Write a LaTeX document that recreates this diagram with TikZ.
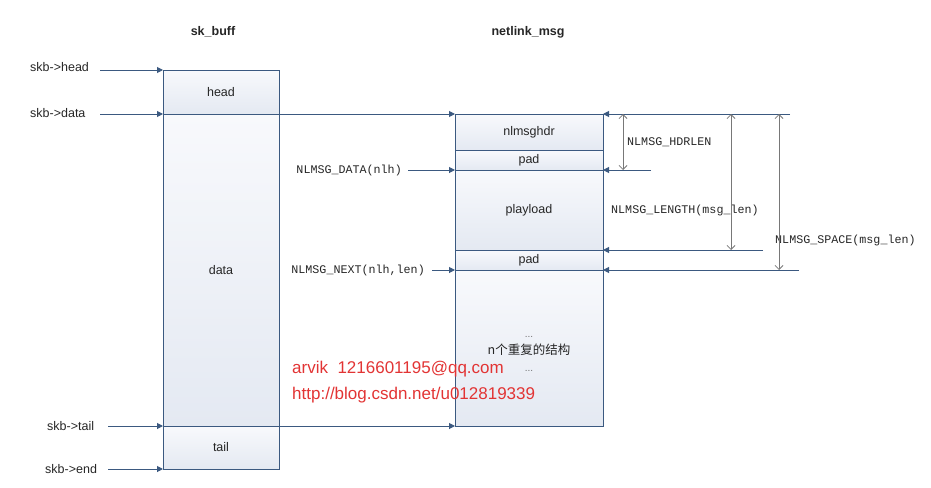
\documentclass[tikz,border=0pt]{standalone}
\usepackage{fontspec}
\setmainfont{Liberation Sans}
\setmonofont{Liberation Mono}
\newfontfamily\cjk{Noto Sans CJK SC}
\usepackage{tikz}
\usetikzlibrary{arrows.meta,positioning}

\definecolor{edgeblue}{RGB}{59,89,128}
\definecolor{cellhi}{RGB}{248,249,252}
\definecolor{celllo}{RGB}{228,233,242}
\definecolor{dimgray}{RGB}{120,120,120}
\definecolor{markred}{RGB}{226,52,52}

\tikzset{
  cell/.style={draw=edgeblue, line width=1pt, top color=cellhi, bottom color=celllo,
    inner sep=0pt, outer sep=0pt, font=\fontsize{12.5}{15}\selectfont, text=black!85},
  ptr/.style={draw=edgeblue, line width=1pt, -{Triangle[length=6pt,width=6pt]}},
  dim/.style={draw=dimgray, line width=0.8pt,
    {Straight Barb[length=4pt,width=8pt]}-{Straight Barb[length=4pt,width=8pt]}},
  lbl/.style={inner sep=0pt, font=\fontsize{12.5}{15}\selectfont, text=black!85},
  macro/.style={inner sep=0pt, font=\ttfamily\fontsize{11.7}{14}\selectfont, text=black!85},
}
\newcommand{\gdots}{{\color{black!55}\fontsize{10}{10}\selectfont ...}}

\begin{document}
\begin{tikzpicture}[x=1pt,y=-1pt]
            \useasboundingbox (0,0) rectangle (931,487);
            % titles
            \node[lbl, font=\bfseries\fontsize{12.5}{15}\selectfont] (tskb) at (213,32) {sk\_buff};
            \node[lbl, font=\bfseries\fontsize{12.5}{15}\selectfont] (tnl) at (528,32) {netlink\_msg};
            % sk_buff cells
            \node[cell, minimum width=116pt, minimum height=44pt] (head) at (221,92) {head};
            \node[cell, minimum width=116pt, minimum height=312pt, below=0pt of head] (data) {data};
            \node[cell, minimum width=116pt, minimum height=43pt, below=0pt of data] (tail) {tail};
            % netlink_msg cells
            \node[cell, minimum width=148pt, minimum height=36pt] (hdr) at (529,132) {nlmsghdr};
            \node[cell, minimum width=148pt, minimum height=20pt, below=0pt of hdr] (pad1) {pad};
            \node[cell, minimum width=148pt, minimum height=80pt, below=0pt of pad1] (pay) {playload};
            \node[cell, minimum width=148pt, minimum height=20pt, below=0pt of pay] (pad2) {pad};
            \node[cell, minimum width=148pt, minimum height=156pt, below=0pt of pad2] (rest) {};
            \node[lbl, align=center, font=\fontsize{12.5}{17}\selectfont] (resttxt) at ([yshift=-5.5pt]rest.center)
                {\gdots\\{\cjk n个重复的结构}\\\gdots};
            % Text Node
            \node[lbl, anchor=west] (lhead) at (30,67) {skb->head};
            \node[lbl, anchor=west] (ldata) at (30,113) {skb->data};
            \node[lbl, anchor=west] (ltail) at (47,426) {skb->tail};
            \node[lbl, anchor=west] (lend) at (45,469) {skb->end};
            \node[macro, anchor=east] (ldat) at (402,170) {NLMSG\_DATA(nlh)};
            \node[macro, anchor=east] (lnext) at (425,270) {NLMSG\_NEXT(nlh,len)};
            \node[macro, anchor=west] (lhdr) at (627,142) {NLMSG\_HDRLEN};
            \node[macro, anchor=west] (llen) at (611,210) {NLMSG\_LENGTH(msg\_len)};
            \node[macro, anchor=west] (lspc) at (775,240) {NLMSG\_SPACE(msg\_len)};
            \node[anchor=west, inner sep=0pt, align=left, text=markred, font=\fontsize{17}{26}\selectfont] (mark)
                at (292,382) {arvik\ \ 1216601195@qq.com\\http://blog.csdn.net/u012819339};
            % free ends
            \coordinate (shead) at (100,70);
            \coordinate (sdata) at (100,114);
            \coordinate (stail) at (108,426);
            \coordinate (send) at (108,469);
            \coordinate (sdat) at (408,170);
            \coordinate (snext) at (432,270);
            \coordinate (rtop) at (790,114);
            \coordinate (rhdr) at (651,170);
            \coordinate (rlen) at (763,250);
            \coordinate (rspc) at (799,270);
            %Straight Lines
            \draw[ptr] (shead) -- (head.north west);
            \draw[ptr] (sdata) -- (data.north west);
            \draw[ptr] (data.north west) -- (hdr.north west);
            \draw[ptr] (stail) -- (tail.north west);
            \draw[ptr] (tail.north west) -- (rest.south west);
            \draw[ptr] (send) -- (tail.south west);
            \draw[ptr] (sdat) -- (pay.north west);
            \draw[ptr] (snext) -- (rest.north west);
            \draw[ptr] (rtop) -- (hdr.north east);
            \draw[ptr] (rhdr) -- (pay.north east);
            \draw[ptr] (rlen) -- (pad2.north east);
            \draw[ptr] (rspc) -- (rest.north east);
            % dimension lines
            \coordinate (d1a) at (623,114);
            \coordinate (d1b) at (623,170);
            \coordinate (d2a) at (731,114);
            \coordinate (d2b) at (731,250);
            \coordinate (d3a) at (779,114);
            \coordinate (d3b) at (779,270);
            \draw[dim] (d1a) -- (d1b);
            \draw[dim] (d2a) -- (d2b);
            \draw[dim] (d3a) -- (d3b);
\end{tikzpicture}
\end{document}
